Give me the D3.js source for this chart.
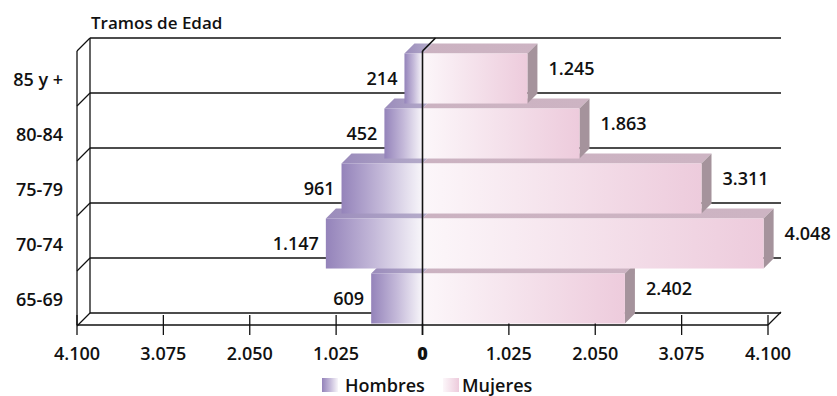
<!DOCTYPE html>
<html><head><meta charset="utf-8">
<script src="https://cdn.jsdelivr.net/npm/d3@7"></script>
<style>
html,body{margin:0;padding:0;background:#fff;}
text{font-family:"Open Sans",sans-serif;fill:#111;}
</style></head>
<body><svg id="c" width="837" height="396"></svg>
<script>
const categories = ["85 y +","80-84","75-79","70-74","65-69"];
const hombres = [214,452,961,1147,609];
const mujeres = [1245,1863,3311,4048,2402];
const tickValues = [-4100,-3075,-2050,-1025,0,1025,2050,3075,4100];
const seriesNames = ["Hombres","Mujeres"];
const axisTitle = "Tramos de Edad";

const svg = d3.select("#c");
const loc = d3.formatLocale({decimal:",",thousands:".",grouping:[3],currency:["",""]});
const fmt = v => loc.format(",d")(Math.abs(v));

const x = d3.scaleLinear().domain([-4100,4100]).range([77,768]);
const y = d3.scaleBand().domain(categories).range([51,326]).paddingInner(0.09).paddingOuter(0.045);
const DX = 13, DY = -13;      // wall depth
const BX = 10, BY = -10;      // bar depth
const yTop = y.range()[0], yBot = 325;
const step = y.step();

const defs = svg.append("defs");
function grad(id, stops){
  const g = defs.append("linearGradient").attr("id",id).attr("x1","0").attr("x2","1").attr("y1","0").attr("y2","0");
  stops.forEach(([o,c])=>g.append("stop").attr("offset",o).attr("stop-color",c));
}
grad("hF",[[0,"#9483ba"],[0.5,"#c4b9d9"],[1,"#f8f6fa"]]);
grad("hT",[[0,"#9a8bbb"],[1,"#b7aecb"]]);
grad("mF",[[0,"#fcf7fa"],[1,"#edcbdc"]]);
grad("mT",[[0,"#cbb2c1"],[1,"#cdb4c3"]]);

const line = (x1,y1,x2,y2,w=1.3)=>svg.append("line").attr("x1",x1).attr("y1",y1).attr("x2",x2).attr("y2",y2)
  .attr("stroke","#111").attr("stroke-width",w);

// back wall gridlines & left wall
const bounds = d3.range(categories.length+1).map(k=>yTop + k*step);
bounds.forEach(b=>{
  line(x(-4100)+DX, b+DY, x(4100)+DX, b+DY);
  line(x(-4100), b, x(-4100)+DX, b+DY);
});
line(x(-4100), yTop, x(-4100), yBot);
line(x(-4100)+DX, yTop+DY, x(-4100)+DX, bounds[bounds.length-1]+DY);
// floor
line(x(-4100), yBot, x(4100), yBot, 1.6);
line(x(4100), yBot, x(4100)+DX, yBot+DY);
// ticks
tickValues.forEach(t=>line(x(t), yBot-10, x(t), yBot+10));
svg.append("g").selectAll("text").data(tickValues).join("text")
  .attr("x",d=>x(d)).attr("y",360).attr("text-anchor","middle")
  .style("font-size","18px").style("font-weight",d=>d===0?800:600).text(d=>fmt(d));

// bars, bottom to top
const idx = d3.range(categories.length).reverse();
const gb = svg.append("g");
const pts = a=>a.map(p=>p.join(",")).join(" ");
idx.forEach(i=>{
  const c = categories[i], t = y(c), h = y.bandwidth(), b = t+h;
  const xl = x(-hombres[i]), x0 = x(0), xr = x(mujeres[i]);
  gb.append("polygon").attr("points",pts([[xl,t],[x0,t],[x0+BX,t+BY],[xl+BX,t+BY]])).attr("fill","url(#hT)");
  gb.append("polygon").attr("points",pts([[x0,t],[xr,t],[xr+BX,t+BY],[x0+BX,t+BY]])).attr("fill","url(#mT)");
  gb.append("polygon").attr("points",pts([[xr,t],[xr+BX,t+BY],[xr+BX,b+BY],[xr,b]])).attr("fill","#a5939c");
  gb.append("rect").attr("x",xl).attr("y",t).attr("width",x0-xl).attr("height",h).attr("fill","url(#hF)");
  gb.append("rect").attr("x",x0).attr("y",t).attr("width",xr-x0).attr("height",h).attr("fill","url(#mF)");
});

// zero line in front
line(x(0), yTop, x(0), yBot+10, 1.6);
line(x(0), yTop, x(0)+DX, yTop+DY, 1.6);

// value labels
svg.append("g").selectAll("text").data(categories).join("text")
  .attr("x",(d,i)=>x(-hombres[i])-7).attr("y",d=>y(d)+y.bandwidth()/2+6.5)
  .attr("text-anchor","end").style("font-size","18px").style("font-weight",600)
  .text((d,i)=>fmt(hombres[i]));
svg.append("g").selectAll("text").data(categories).join("text")
  .attr("x",(d,i)=>x(mujeres[i])+21).attr("y",d=>y(d)+y.bandwidth()/2-4)
  .attr("text-anchor","start").style("font-size","18px").style("font-weight",600)
  .text((d,i)=>fmt(mujeres[i]));

// category labels
svg.append("g").selectAll("text").data(categories).join("text")
  .attr("x",63).attr("y",d=>y(d)+y.bandwidth()/2+7)
  .attr("text-anchor","end").style("font-size","18px").style("font-weight",600).text(d=>d);

// title
svg.append("text").attr("x",91).attr("y",29).style("font-size","17px").style("font-weight",600).text(axisTitle);

// legend
const leg = [{n:seriesNames[0],g:"hF",sx:322,tx:345},{n:seriesNames[1],g:"mF",sx:443,tx:462}];
leg.forEach(l=>{
  svg.append("rect").attr("x",l.sx).attr("y",378).attr("width",16).attr("height",14).attr("fill",`url(#${l.g})`);
  svg.append("text").attr("x",l.tx).attr("y",392).style("font-size","18px").style("font-weight",600).text(l.n);
});
</script></body></html>
